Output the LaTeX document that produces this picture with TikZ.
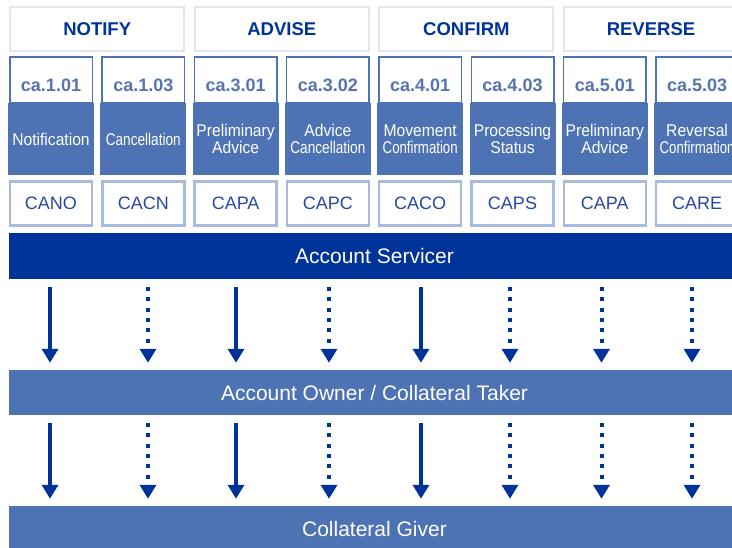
\documentclass[tikz,border=0pt]{standalone}
\usepackage{fontspec}
\setmainfont{Liberation Sans}
\newfontfamily\namefont[FakeStretch=0.92]{Liberation Sans}
\usepackage{graphicx}
\usetikzlibrary{arrows.meta}
\definecolor{dkblue}{HTML}{003399}
\definecolor{mdblue}{HTML}{4E73B5}
\definecolor{cdtext}{HTML}{5874B0}
\definecolor{tgtext}{HTML}{2848A2}
\definecolor{tgline}{HTML}{A8BBDF}
\definecolor{hdline}{HTML}{E1E6F0}
\newcommand{\sqz}[1]{\resizebox{75pt}{\height}{#1}}
\tikzset{
  phase/.style={draw=hdline,line width=2pt,fill=white,minimum width=174pt,minimum height=44pt,
    inner sep=0pt,font=\fontsize{18.5}{20}\selectfont\bfseries,text=dkblue},
  msgcode/.style={draw=mdblue,line width=1.5pt,fill=white,minimum width=82.5pt,inner sep=0pt,
    text height=34.45pt,text depth=11.55pt,font=\fontsize{18}{20}\selectfont\bfseries,text=cdtext},
  msgname/.style={fill=mdblue,minimum width=86pt,minimum height=72pt,inner sep=0pt,align=center,
    font=\namefont\fontsize{17}{16.5}\selectfont,text=white},
  msgtag/.style={draw=tgline,line width=2.5pt,fill=white,minimum width=82pt,minimum height=44pt,
    inner sep=0pt,font=\fontsize{18}{20}\selectfont,text=tgtext},
  party/.style={minimum width=731pt,minimum height=46pt,inner sep=0pt,
    font=\fontsize{21}{24}\selectfont,text=white},
  solidflow/.style={draw=dkblue,line width=4pt,-{Triangle[width=16pt,length=14pt]},
    shorten <=8pt,shorten >=7pt},
  dotflow/.style={solidflow,dash pattern=on 4pt off 6.3pt}
}
\begin{document}
\begin{tikzpicture}[x=1pt,y=-1pt]
    \useasboundingbox (0,0) rectangle (732,548);
    \clip (0,0) rectangle (732,548);
    \node[phase] (H1) at (97.2,29) {NOTIFY};
    \node[phase] (H2) at (281.8,29) {ADVISE};
    \node[phase] (H3) at (466.4,29) {CONFIRM};
    \node[phase] (H4) at (651,29) {REVERSE};
    \node[msgname] (L1) at (51,139) {Notification};
    \node[msgname] (L2) at (143.3,139) {\sqz{Cancellation}};
    \node[msgname] (L3) at (235.6,139) {Preliminary\\Advice};
    \node[msgname] (L4) at (327.9,139) {Advice\\\sqz{Cancellation}};
    \node[msgname] (L5) at (420.2,139) {Movement\\\sqz{Confirmation}};
    \node[msgname] (L6) at (512.5,139) {Processing\\Status};
    \node[msgname] (L7) at (604.8,139) {Preliminary\\Advice};
    \node[msgname] (L8) at (697.1,139) {Reversal\\\sqz{Confirmation}};
    \node[msgcode] (C1) at (51,80) {ca.1.01};
    \node[msgcode] (C2) at (143.3,80) {ca.1.03};
    \node[msgcode] (C3) at (235.6,80) {ca.3.01};
    \node[msgcode] (C4) at (327.9,80) {ca.3.02};
    \node[msgcode] (C5) at (420.2,80) {ca.4.01};
    \node[msgcode] (C6) at (512.5,80) {ca.4.03};
    \node[msgcode] (C7) at (604.8,80) {ca.5.01};
    \node[msgcode] (C8) at (697.1,80) {ca.5.03};
    \node[msgtag] (T1) at (51,203.4) {CANO};
    \node[msgtag] (T2) at (143.3,203.4) {CACN};
    \node[msgtag] (T3) at (235.6,203.4) {CAPA};
    \node[msgtag] (T4) at (327.9,203.4) {CAPC};
    \node[msgtag] (T5) at (420.2,203.4) {CACO};
    \node[msgtag] (T6) at (512.5,203.4) {CAPS};
    \node[msgtag] (T7) at (604.8,203.4) {CAPA};
    \node[msgtag] (T8) at (697.1,203.4) {CARE};
    \node[party,fill=dkblue] (AS) at (374.5,256) {Account Servicer};
    \node[party,fill=mdblue,minimum height=45pt] (AO) at (374.5,392.5) {Account Owner / Collateral Taker};
    \node[party,fill=mdblue] (CG) at (374.5,529) {Collateral Giver};
    \coordinate (P1) at (50,0);
    \coordinate (P2) at (148,0);
    \coordinate (P3) at (236,0);
    \coordinate (P4) at (329,0);
    \coordinate (P5) at (421,0);
    \coordinate (P6) at (510,0);
    \coordinate (P7) at (601.5,0);
    \coordinate (P8) at (692,0);
    \path (P1 |- AS.south) edge[solidflow] (P1 |- AO.north) (P1 |- AO.south) edge[solidflow] (P1 |- CG.north);
    \path (P2 |- AS.south) edge[dotflow] (P2 |- AO.north) (P2 |- AO.south) edge[dotflow] (P2 |- CG.north);
    \path (P3 |- AS.south) edge[solidflow] (P3 |- AO.north) (P3 |- AO.south) edge[solidflow] (P3 |- CG.north);
    \path (P4 |- AS.south) edge[dotflow] (P4 |- AO.north) (P4 |- AO.south) edge[dotflow] (P4 |- CG.north);
    \path (P5 |- AS.south) edge[solidflow] (P5 |- AO.north) (P5 |- AO.south) edge[solidflow] (P5 |- CG.north);
    \path (P6 |- AS.south) edge[dotflow] (P6 |- AO.north) (P6 |- AO.south) edge[dotflow] (P6 |- CG.north);
    \path (P7 |- AS.south) edge[dotflow] (P7 |- AO.north) (P7 |- AO.south) edge[dotflow] (P7 |- CG.north);
    \path (P8 |- AS.south) edge[dotflow] (P8 |- AO.north) (P8 |- AO.south) edge[dotflow] (P8 |- CG.north);
\end{tikzpicture}
\end{document}
